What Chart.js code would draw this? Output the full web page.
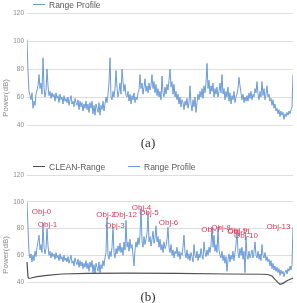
<!DOCTYPE html>
<html>
<head>
<meta charset="utf-8">
<script src="https://cdn.jsdelivr.net/npm/chart.js@4"></script>
<style>
  html, body { margin:0; padding:0; background:#fff; }
  body { width:297px; height:303px; position:relative; overflow:hidden;
         font-family:"Liberation Sans", Arial, sans-serif; }
  canvas { position:absolute; left:0; }
  #chartA { top:0; }
  #chartB { top:155px; }
  .legend { position:absolute; font-size:8.5px; line-height:10px; color:#595959; white-space:nowrap; }
  .legend .ln { display:inline-block; width:12px; height:0; border-top:1px solid; vertical-align:middle; margin-right:4px; position:relative; top:-1px; }
  .ytitle { position:absolute; font-size:8px; color:#8c8c8c; white-space:nowrap;
            transform:translate(-50%,-50%) rotate(-90deg); }
  .caption { position:absolute; font-family:"Liberation Serif", "Times New Roman", serif; font-size:13px; color:#333;
             transform:translate(-50%,-50%); }
</style>
</head>
<body>
<canvas id="chartA" width="297" height="135"></canvas>
<canvas id="chartB" width="297" height="135"></canvas>

<div class="legend" style="left:33px; top:0px;"><span class="ln" style="border-color:#6b9bd9"></span>Range Profile</div>
<div class="legend" style="left:33px; top:162px;"><span class="ln" style="border-color:#505050"></span>CLEAN-Range</div>
<div class="legend" style="left:128px; top:162px;"><span class="ln" style="border-color:#6b9bd9"></span>Range Profile</div>

<div class="ytitle" style="left:5px; top:98px;">Power(dB)</div>
<div class="ytitle" style="left:5px; top:255px;">Power(dB)</div>

<div class="caption" style="left:148px; top:143px;">(a)</div>
<div class="caption" style="left:148px; top:297px;">(b)</div>

<script>
/* range profile plots — (a) raw profile, (b) profile + CLEAN result with object marks */

const COLORS = { profile:'#6b9bd9', clean:'#505050', grid:'#dedede', tick:'#8c8c8c', obj:'#e03c5a' };

const yTicks = [40, 60, 80, 100, 120];

// power per range bin, (a)
const profileA = [
  101, 78, 64, 61, 58, 63, 52, 57, 54, 62,
  65, 68, 76, 66, 70, 62, 88, 67, 60, 64,
  80, 68, 61, 64, 59, 63, 60, 62, 57, 63,
  59, 61, 56, 62, 58, 60, 55, 61, 57, 59,
  56, 60, 54, 58, 61, 55, 57, 53, 59, 56,
  54, 58, 51, 57, 53, 56, 50, 55, 52, 57,
  51, 55, 49, 56, 52, 57, 48, 54, 47, 55,
  52, 49, 56, 47, 54, 51, 57, 50, 55, 60,
  56, 62, 70, 88, 60, 58, 64, 60, 66, 79,
  66, 60, 64, 70, 62, 80, 71, 64, 69, 61,
  60, 64, 57, 62, 55, 61, 58, 63, 56, 60,
  58, 63, 65, 76, 66, 70, 62, 67, 73, 64,
  68, 63, 70, 65, 68, 76, 66, 71, 63, 69,
  61, 66, 60, 64, 58, 75, 63, 60, 67, 62,
  69, 65, 72, 80, 67, 71, 62, 69, 60, 64,
  58, 62, 55, 60, 53, 58, 56, 51, 57, 54,
  59, 52, 56, 68, 55, 50, 58, 53, 60, 49,
  56, 62, 58, 64, 60, 66, 59, 68, 63, 70,
  84, 66, 72, 62, 68, 64, 70, 60, 66, 62,
  67, 60, 64, 70, 63, 76, 62, 66, 58, 64,
  60, 67, 57, 63, 55, 61, 58, 64, 56, 60,
  62, 66, 74, 68, 63, 58, 62, 56, 60, 57,
  61, 57, 63, 59, 64, 58, 62, 60, 66, 63,
  71, 62, 58, 64, 60, 71, 61, 66, 58, 62,
  68, 60, 62, 57, 59, 54, 58, 52, 55, 50,
  52, 48, 51, 46, 50, 47, 49, 44, 48, 46,
  49, 47, 50, 48, 51, 53, 76
];

// power per range bin, (b)
const profileB = [
  100, 80, 62, 58, 61, 55, 60, 56, 63, 59,
  66, 70, 75, 64, 68, 62, 84, 66, 61, 65,
  80, 67, 60, 63, 58, 62, 59, 61, 57, 62,
  58, 60, 56, 61, 57, 59, 55, 60, 56, 58,
  55, 59, 54, 57, 60, 54, 56, 52, 58, 55,
  53, 57, 51, 56, 52, 55, 50, 54, 51, 56,
  50, 54, 48, 55, 51, 56, 47, 53, 46, 54,
  51, 48, 55, 47, 53, 50, 56, 52, 58, 62,
  88, 60, 57, 63, 59, 66, 81, 62, 58, 65,
  61, 67, 63, 69, 62, 66, 60, 70, 64, 86,
  66, 70, 63, 72, 65, 68, 60, 52, 64, 70,
  66, 73, 68, 75, 95, 70, 66, 74, 68, 72,
  76, 92, 70, 74, 67, 72, 78, 69, 73, 82,
  70, 74, 66, 72, 64, 68, 62, 70, 65, 67,
  72, 81, 66, 62, 68, 60, 64, 58, 63, 61,
  66, 59, 63, 57, 62, 60, 66, 75, 62, 58,
  64, 57, 61, 56, 62, 59, 55, 68, 60, 58,
  63, 56, 61, 58, 65, 60, 57, 70, 62, 59,
  64, 60, 66, 62, 68, 81, 66, 75, 63, 68,
  62, 80, 64, 60, 58, 63, 56, 60, 54, 59,
  48, 57, 61, 55, 60, 57, 63, 56, 62, 68,
  79, 62, 58, 65, 60, 66, 57, 63, 47, 74,
  60, 57, 63, 58, 61, 64, 58, 62, 70, 60,
  58, 63, 57, 61, 56, 68, 60, 58, 62, 56,
  59, 55, 57, 52, 56, 50, 54, 49, 52, 48,
  51, 47, 50, 45, 49, 46, 48, 44, 47, 49,
  46, 50, 48, 52, 49, 53, 81
];

// CLEAN-Range residual floor, sampled at these bins
const cleanBin = [0, 1, 2, 4, 10, 20, 35, 60, 100, 150, 200, 235, 241, 245, 248, 251, 253, 256, 260, 266];
const cleanDb  = [55, 43.5, 42.8, 43, 44, 45, 46, 46.5, 46.6, 46.4, 46, 45.8, 45.6, 44.5, 42, 39.5, 38.3, 39, 41, 43];

// detected objects (label anchor: bin, dB)
const objNames = ['Obj-0','Obj-1','Obj-2','Obj-12','Obj-3','Obj-4','Obj-5','Obj-6','Obj-7','Obj-8','Obj-11','Obj-9','Obj-10','Obj-13'];
const objBin   = [14.5, 20.5, 79, 98, 88, 114.5, 122, 141.5, 184, 194, 212, 210.5, 219, 251.5];
const objDb    = [92.6, 83.1, 90.6, 90.6, 82.1, 95.6, 92.1, 84.6, 79.4, 80.6, 77.8, 78.1, 74.6, 81.4];

const toXY = (xs, ys) => ys.map((v, i) => ({x: xs ? xs[i] : i, y: v}));

const objLabelPlugin = {
  id:'objLabels',
  afterDatasetsDraw(chart){
    const {ctx, scales:{x, y}} = chart;
    ctx.save();
    ctx.font = '8px "Liberation Sans", Arial, sans-serif';
    ctx.fillStyle = COLORS.obj;
    ctx.textAlign = 'center';
    ctx.textBaseline = 'middle';
    objNames.forEach((name, i) => {
      ctx.fillText(name, x.getPixelForValue(objBin[i]), y.getPixelForValue(objDb[i]));
    });
    ctx.restore();
  }
};

function lineDs(data, color, width, extra){
  return Object.assign({data, borderColor:color, backgroundColor:color, borderWidth:width,
    pointRadius:0, tension:0, fill:false}, extra || {});
}

function makeChart(id, datasets, padTop, padBottom, plugins){
  return new Chart(document.getElementById(id), {
    type:'line',
    data:{datasets},
    plugins: plugins || [],
    options:{
      responsive:false, animation:false,
      layout:{padding:{top:padTop, right:4, bottom:padBottom, left:0}},
      plugins:{legend:{display:false}, tooltip:{enabled:false}},
      scales:{
        x:{type:'linear', min:0, max:profileA.length - 1, display:false},
        y:{
          min:40, max:120,
          afterBuildTicks: s => { s.ticks = yTicks.map(v => ({value:v})); },
          afterFit: s => { s.width = 27; },
          ticks:{padding:3, color:COLORS.tick, font:{size:6.5, family:'"Liberation Sans", Arial, sans-serif'}},
          grid:{color:COLORS.grid, drawTicks:false},
          border:{display:false}
        }
      }
    }
  });
}

makeChart('chartA', [
  lineDs(toXY(null, profileA), COLORS.profile, 1)
], 13, 10);

makeChart('chartB', [
  lineDs(toXY(cleanBin, cleanDb), COLORS.clean, 1.2, {clip:false}),
  lineDs(toXY(null, profileB), COLORS.profile, 1)
], 20, 8, [objLabelPlugin]);
</script>
</body>
</html>
